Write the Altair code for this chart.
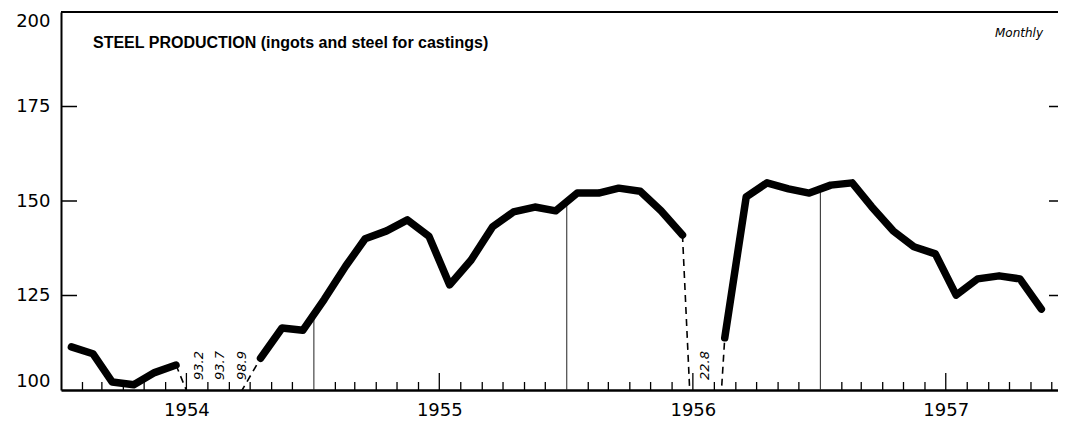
import altair as alt
import pandas as pd

# ---- data (index, 1947-49 = 100), monthly Jan 1954 .. Nov 1957 ----
month_starts = pd.date_range("1954-01-01", "1957-11-01", freq="MS")
values = [111.4, 109.6, 102.1, 101.4, 104.6, 106.6, 93.2, 93.7, 98.9, 108.4, 116.4, 115.8,
          124.0, 132.8, 140.0, 142.1, 145.0, 140.7, 127.8, 134.4, 143.2, 147.1, 148.4, 147.4,
          152.1, 152.1, 153.4, 152.6, 147.4, 141.0, 22.8, 113.8, 151.1, 154.8, 153.2, 152.1,
          154.2, 154.8, 148.5, 142.1, 137.9, 136.0, 125.1, 129.4, 130.2, 129.4, 121.4]
# segments: (first index, last index, style)
segments = [(0, 5, "solid"), (5, 9, "dashed"), (9, 29, "solid"), (29, 31, "dashed"), (31, 46, "solid")]
offscale_idx = [6, 7, 8, 30]
years = [1954, 1955, 1956, 1957]
y_ticks = [100, 125, 150, 175, 200]
inner_ticks = [125, 150, 175]

W, H = 997, 378

dates = [d + pd.Timedelta(days=15) for d in month_starts]
rows = []
for k, (a, b, style) in enumerate(segments):
    for i in range(a, b + 1):
        rows.append({"date": dates[i], "value": values[i], "seg": k, "style": style})
df = pd.DataFrame(rows)

lab_df = pd.DataFrame({"date": [dates[i] + pd.Timedelta(days=3) for i in offscale_idx],
                       "label": [f"{values[i]:.1f}" for i in offscale_idx]})

# drop lines at year boundaries (mean of the two neighbouring months)
drop_rows = []
for y in years[1:]:
    i = (y - 1954) * 12
    drop_rows.append({"date": pd.Timestamp(f"{y}-01-01"), "lo": 100,
                      "hi": (values[i - 1] + values[i]) / 2})
drop_df = pd.DataFrame(drop_rows)

tick_dates = [d for d in month_starts.append(pd.DatetimeIndex(["1957-12-01"]))
              if d.month not in (1, 7)]
tick_df = pd.DataFrame({"date": tick_dates})
mid_df = pd.DataFrame({"date": [pd.Timestamp(f"{y}-07-01") for y in years]})
ytick_df = pd.DataFrame({"v": inner_ticks})
one = pd.DataFrame({"a": [0]})

xscale = alt.Scale(domain=[alt.DateTime(year=1954, month=1, date=1),
                           alt.DateTime(year=1957, month=12, date=10)])
yscale = alt.Scale(domain=[100, 200], nice=False, zero=False)

xaxis = alt.Axis(values=[alt.DateTime(year=y, month=7, date=1) for y in years],
                 format="%Y", ticks=False, grid=False, labelPadding=11,
                 labelFont="DejaVu Sans", labelFontSize=18, labelColor="black",
                 domainColor="black", domainWidth=2.5, labelFlush=False, title=None)
yaxis = alt.Axis(values=y_ticks, ticks=False, grid=False, labelFlush=True,
                 labelPadding=11, labelFont="DejaVu Sans", labelFontSize=18,
                 labelColor="black", domainColor="black", domainWidth=2, title=None)

drops = alt.Chart(drop_df).mark_rule(color="#222", strokeWidth=1).encode(
    x=alt.X("date:T", scale=xscale, axis=xaxis),
    y=alt.Y("lo:Q", scale=yscale, axis=yaxis), y2="hi:Q")

month_ticks = alt.Chart(tick_df).mark_rule(color="black", strokeWidth=1.3).encode(
    x=alt.X("date:T", scale=xscale), y=alt.value(H), y2=alt.value(H - 8))
mid_ticks = alt.Chart(mid_df).mark_rule(color="black", strokeWidth=1.3).encode(
    x=alt.X("date:T", scale=xscale), y=alt.value(H), y2=alt.value(H - 17))
left_ticks = alt.Chart(ytick_df).mark_rule(color="black", strokeWidth=1.5).encode(
    y=alt.Y("v:Q", scale=yscale), x=alt.value(0), x2=alt.value(16))
right_ticks = alt.Chart(ytick_df).mark_rule(color="black", strokeWidth=1.5).encode(
    y=alt.Y("v:Q", scale=yscale), x=alt.value(W - 9), x2=alt.value(W))
top_border = alt.Chart(one).mark_rule(color="black", strokeWidth=2).encode(
    y=alt.value(0), x=alt.value(0), x2=alt.value(W))

solid = alt.Chart(df).transform_filter(alt.datum.style == "solid").mark_line(
    color="black", strokeWidth=7.5, strokeCap="round", strokeJoin="round", clip=True
).encode(x=alt.X("date:T", scale=xscale), y=alt.Y("value:Q", scale=yscale), detail="seg:N")

dashed = alt.Chart(df).transform_filter(alt.datum.style == "dashed").mark_line(
    color="black", strokeWidth=1.6, strokeDash=[7, 5], clip=True
).encode(x=alt.X("date:T", scale=xscale), y=alt.Y("value:Q", scale=yscale), detail="seg:N")

labels = alt.Chart(lab_df).mark_text(
    angle=270, align="left", baseline="middle", font="DejaVu Sans",
    fontStyle="italic", fontSize=13, color="black"
).encode(x=alt.X("date:T", scale=xscale), y=alt.value(H - 10), text="label:N")

title = alt.Chart(one).mark_text(
    align="left", baseline="alphabetic", font="Liberation Sans", fontWeight="bold",
    fontSize=16, color="black"
).encode(x=alt.value(32), y=alt.value(36),
         text=alt.value("STEEL PRODUCTION (ingots and steel for castings)"))

monthly = alt.Chart(one).mark_text(
    align="right", baseline="alphabetic", font="DejaVu Sans", fontStyle="italic",
    fontSize=12, color="black"
).encode(x=alt.value(982), y=alt.value(25), text=alt.value("Monthly"))

chart = alt.layer(
    drops, month_ticks, mid_ticks, left_ticks, right_ticks, top_border,
    dashed, solid, labels, title, monthly
).properties(
    width=W, height=H,
    autosize=alt.AutoSizeParams(type="none"),
    padding={"left": 53, "top": 4, "right": 0, "bottom": 31},
).configure_view(stroke=None).configure(background="white")

chart.save("out.html", embed_options={"renderer": "svg", "actions": False})
